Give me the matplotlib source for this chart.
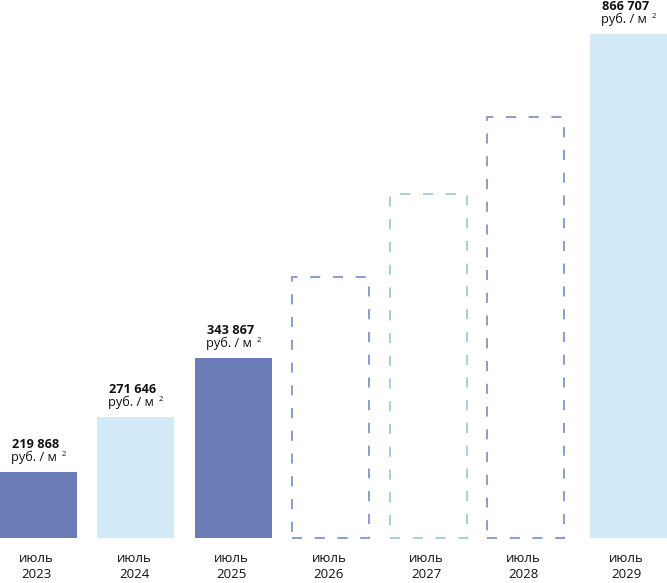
import matplotlib
matplotlib.use("Agg")
import matplotlib.pyplot as plt

plt.rcParams['font.family'] = ['Open Sans', 'DejaVu Sans']

months = ["июль"] * 7
years = ["2023", "2024", "2025", "2026", "2027", "2028", "2029"]
# displayed bar heights (schematic scale of the original infographic)
bar_heights = [66, 121, 180, 261, 344, 421, 504]
value_labels = ["219 868", "271 646", "343 867", None, None, None, "866 707"]
unit_label = "руб. / м"
styles = ["solid_dark", "solid_light", "solid_dark", "dash_blue", "dash_teal", "dash_blue", "solid_light"]

colors = {
    "solid_dark": "#6A7DB6",
    "solid_light": "#D2EAF8",
    "dash_blue": "#8C9CCB",
    "dash_teal": "#A9CDDA",
}

fig = plt.figure(figsize=(6.67, 5.83), dpi=100)
ax = fig.add_axes([0, 0, 1, 1])
width = 0.79
# last bar is set slightly apart from the others
x = [i + (0.056 if i == len(years) - 1 else 0.0) for i in range(len(years))]

for xi, h, st in zip(x, bar_heights, styles):
    if st.startswith("solid"):
        ax.bar(xi, h, width=width, color=colors[st], linewidth=0)
    else:
        ax.bar(xi, h, width=width, facecolor="none", edgecolor=colors[st],
               linewidth=1.4, linestyle=(0, (5.2, 6.5)))

for xi, h, v in zip(x, bar_heights, value_labels):
    if v is None:
        continue
    ax.text(xi - 0.03, h + 27.5, v, ha="center", va="center", fontsize=9.2,
            fontweight="bold", color="#111111")
    ax.text(xi - 0.05, h + 14.5, unit_label, ha="center", va="center",
            fontsize=9.2, color="#111111")
    ax.text(xi + 0.26, h + 17.5, "2", ha="center", va="center",
            fontsize=5.5, color="#111111")

for xi, m, y in zip(x, months, years):
    ax.text(xi - 0.02, -20, m, ha="center", va="center", fontsize=9.5, color="#111111")
    ax.text(xi - 0.02, -37, y, ha="center", va="center", fontsize=9.5, color="#111111")

ax.set_xlim(-width / 2, x[-1] + width / 2)
ax.set_ylim(-45, 538)
ax.axis("off")
fig.savefig("out.png", dpi=100)
